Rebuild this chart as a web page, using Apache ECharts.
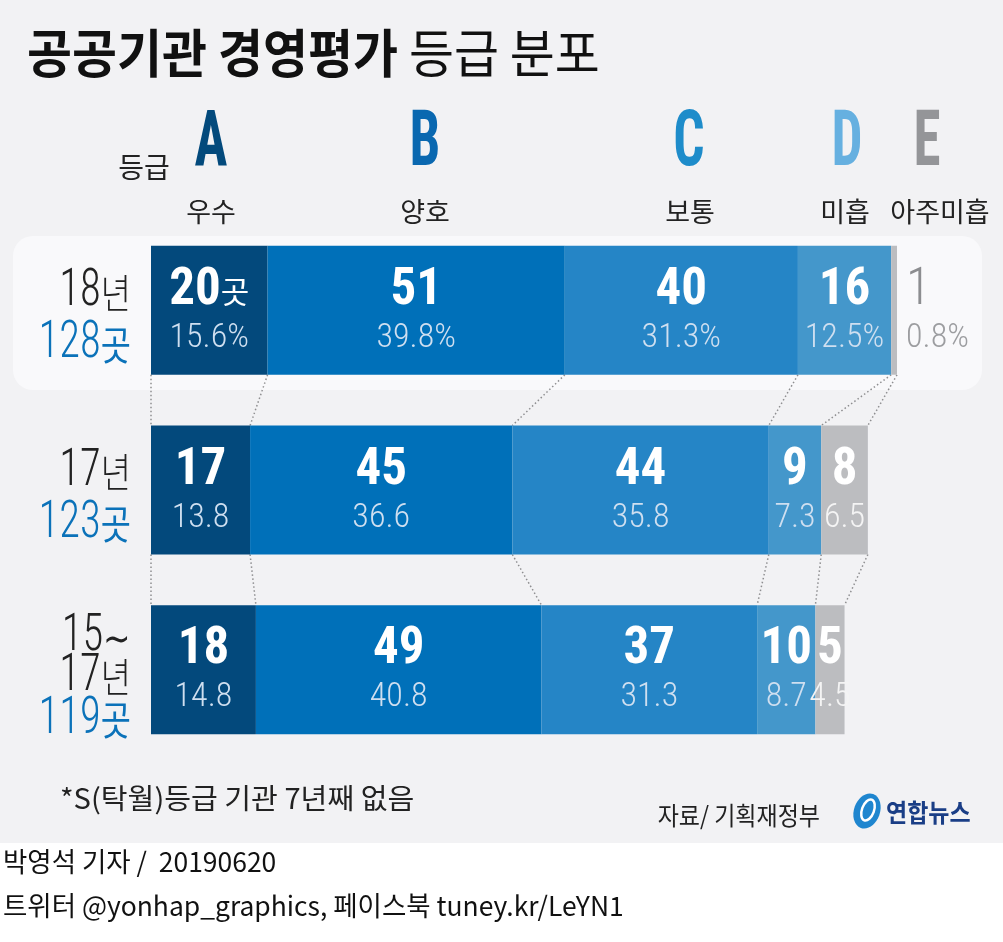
<!DOCTYPE html>
<html>
<head>
<meta charset="utf-8">
<script src="https://cdn.jsdelivr.net/npm/echarts@6/dist/echarts.min.js"></script>
<style>
html,body{margin:0;padding:0;background:#f2f2f4;}
#chart{width:1003px;height:942px;}
</style>
</head>
<body>
<div id="chart"></div>
<script>
// ---- data ----
const categories = ['18년', '17년', '15∼17년'];
const rowTotals = [128, 123, 119];
const gradeNames = ['A', 'B', 'C', 'D', 'E'];
const gradeLabels = ['우수', '양호', '보통', '미흡', '아주미흡'];
const gradeA = [20, 17, 18];
const gradeB = [51, 45, 49];
const gradeC = [40, 44, 37];
const gradeD = [16, 9, 10];
const gradeE = [1, 8, 5];
const pctA = [15.6, 13.8, 14.8];
const pctB = [39.8, 36.6, 40.8];
const pctC = [31.3, 35.8, 31.3];
const pctD = [12.5, 7.3, 8.7];
const pctE = [0.8, 6.5, 4.5];
const footnote = '*S(탁월)등급 기관 7년째 없음';
const source = '자료/ 기획재정부';

// ---- styles ----
const NUM = "'Liberation Sans Narrow','Roboto Condensed','Noto Sans CJK KR',sans-serif";
const KR = "'Noto Sans CJK KR','Noto Sans',sans-serif";
const colors = ['#03497c', '#0070b9', '#2585c6', '#4497cb', '#bcbdc0'];
const letterColors = ['#034a7c', '#0a68b0', '#1e8cca', '#66b0e0', '#949598'];
const BAR_H = 129;

const counts = [gradeA, gradeB, gradeC, gradeD, gradeE];
const pcts = [pctA, pctB, pctC, pctD, pctE];

const chart = echarts.init(document.getElementById('chart'), null, {renderer: 'canvas'});

function fmtPct(v, row) {
  const s = v.toFixed(1);
  return row === 0 ? s + '%' : s;
}

const richBase = {
  n: {fontFamily: NUM, fontSize: 51, fontWeight: 'bold', color: '#ffffff', lineHeight: 56, align: 'center'},
  u: {fontFamily: KR, fontSize: 31, color: '#ffffff', lineHeight: 56},
  p: {fontFamily: NUM, fontSize: 34, fontWeight: 300, color: '#cfdff0', lineHeight: 38, align: 'center'},
  pg: {fontFamily: NUM, fontSize: 34, fontWeight: 300, color: '#f4f4f4', lineHeight: 38, align: 'center'},
  on: {fontFamily: NUM, fontSize: 51, fontWeight: 300, color: '#8c8d90', lineHeight: 56},
  op: {fontFamily: NUM, fontSize: 34, fontWeight: 300, color: '#9c9da0', lineHeight: 38}
};

const barSeries = counts.map((arr, gi) => ({
  name: gradeNames[gi],
  type: 'bar',
  stack: 'total',
  barWidth: BAR_H,
  itemStyle: {color: colors[gi]},
  emphasis: {disabled: true},
  z: 3,
  data: arr.map((v, ri) => {
    const item = {value: v};
    if (gi === 4 && ri === 0) {
      item.label = {position: 'right', distance: 9, align: 'left'};
    }
    return item;
  }),
  label: {
    show: true,
    position: 'inside',
    rich: richBase,
    formatter: (p) => {
      const ri = p.dataIndex;
      const v = arr[ri];
      const pc = fmtPct(pcts[gi][ri], ri);
      if (gi === 4 && ri === 0) return '{on|' + v + '}\n{op|' + pc + '}';
      if (gi === 0 && ri === 0) return '{n|' + v + '}{u|곳}\n{p|' + pc + '}';
      if (gi === 4) return '{n|' + v + '}\n{pg|' + pc + '}';
      return '{n|' + v + '}\n{p|' + pc + '}';
    }
  }
}));

// connector lines between rows at cumulative boundaries
const cum = categories.map((_, ri) => {
  const c = [0];
  counts.forEach(arr => c.push(c[c.length - 1] + arr[ri]));
  return c;
});
const connData = [];
for (let r = 0; r < categories.length - 1; r++) {
  for (let k = 0; k < cum[r].length; k++) {
    connData.push([cum[r][k], cum[r + 1][k], r]);
  }
}

const option = {
  backgroundColor: '#f2f2f4',
  animation: false,
  grid: {left: 151, width: 746, top: 220.5, height: 539},
  xAxis: {type: 'value', min: 0, max: 128, show: false, splitLine: {show: false}},
  yAxis: {type: 'category', data: categories, inverse: true, show: false},
  series: barSeries.concat([{
    type: 'custom',
    z: 2,
    silent: true,
    encode: {x: [0, 1], y: 2},
    data: connData,
    renderItem: (params, api) => {
      const r = api.value(2);
      const p1 = api.coord([api.value(0), r]);
      const p2 = api.coord([api.value(1), r + 1]);
      return {
        type: 'line',
        shape: {x1: p1[0], y1: p1[1] + BAR_H / 2, x2: p2[0], y2: p2[1] - BAR_H / 2},
        style: {stroke: '#8e8e90', lineWidth: 1.5, lineDash: [1.5, 2.5]}
      };
    }
  }])
};
chart.setOption(option);

// ---- decorations & text ----
const g = [];
// rounded highlight box behind first row
g.push({type: 'rect', z: 0, shape: {x: 13, y: 236, width: 969, height: 154, r: 20}, style: {fill: '#f9f9fb'}});
// bottom white band
g.push({type: 'rect', z: 0, shape: {x: 0, y: 843, width: 1003, height: 99}, style: {fill: '#ffffff'}});
// title
g.push({type: 'text', x: 27, y: 53, scaleX: 0.94, z: 5, style: {
  text: '{b|공공기관 경영평가 }{r|등급 분포}', textVerticalAlign: 'middle',
  rich: {b: {fontFamily: KR, fontSize: 52, fontWeight: 'bold', fill: '#111'},
         r: {fontFamily: KR, fontSize: 52, fontWeight: 'normal', fill: '#111'}}
}});
// header
g.push({type: 'text', x: 144, y: 167, z: 5, style: {text: '등급', font: '28px ' + KR, fill: '#222', textAlign: 'center', textVerticalAlign: 'middle'}});
const letterX = [211, 425, 689, 847, 927];
const labelX = [211, 425, 690, 845, 940];
gradeNames.forEach((nm, i) => {
  g.push({type: 'text', x: letterX[i], y: 184, scaleX: 1.1, scaleY: 1.55, z: 5, style: {
    text: nm, font: 'bold 50px ' + NUM, fill: letterColors[i], textAlign: 'center', textVerticalAlign: 'bottom'}});
  g.push({type: 'text', x: labelX[i], y: 212, z: 5, style: {
    text: gradeLabels[i], font: '27px ' + KR, fill: '#222', textAlign: 'center', textVerticalAlign: 'middle'}});
});
// row labels
categories.forEach((c, ri) => {
  const pt = chart.convertToPixel({xAxisIndex: 0, yAxisIndex: 0}, [0, ri]);
  const cy = pt[1];
  const parts = c.split('∼');
  const multi = parts.length > 1;
  const rich = {
    y: {fontFamily: NUM, fontSize: 52, fontWeight: 300, fill: '#222', lineHeight: multi ? 40 : 52, align: 'right'},
    k: {fontFamily: KR, fontSize: 40, fontWeight: 300, fill: '#222'},
    t: {fontFamily: NUM, fontSize: 52, fontWeight: 300, fill: '#0b72b9', lineHeight: multi ? 46 : 52, align: 'right'},
    tk: {fontFamily: KR, fontSize: 40, fill: '#0b72b9'}
  };
  const fmtYear = (s) => s.replace(/(\d+)(년)?/, (m, d, n) => '{y|' + d + '}' + (n ? '{k|' + n + '}' : ''));
  let text;
  if (multi) {
    text = '{y|' + parts[0] + '}{k|∼}\n' + fmtYear(parts[1]) + '\n{t|' + rowTotals[ri] + '}{tk|곳}';
  } else {
    text = fmtYear(c) + '\n{t|' + rowTotals[ri] + '}{tk|곳}';
  }
  g.push({type: 'text', x: 131, y: cy + (multi ? 10 : 8), scaleX: 0.82, z: 5, style: {
    text: text, rich: rich, textAlign: 'right', textVerticalAlign: 'middle'}});
});
// footnote, source
g.push({type: 'text', x: 60, y: 798, z: 5, scaleX: 1.04, style: {text: footnote, font: '28px ' + KR, fill: '#222', textVerticalAlign: 'middle'}});
g.push({type: 'text', x: 820, y: 815, z: 5, scaleX: 0.92, style: {text: source, font: '25px ' + KR, fill: '#222', textAlign: 'right', textVerticalAlign: 'middle'}});
// logo
g.push({type: 'ellipse', z: 5, x: 867, y: 811, rotation: -0.35, shape: {cx: 0, cy: 0, rx: 13, ry: 18}, style: {fill: '#1f86cf'}});
g.push({type: 'ellipse', z: 6, x: 868, y: 810, rotation: -0.35, shape: {cx: 0, cy: 0, rx: 6, ry: 11}, style: {fill: 'none', stroke: '#ffffff', lineWidth: 2.5}});
g.push({type: 'text', x: 886, y: 812, z: 5, scaleX: 0.92, style: {text: '연합뉴스', font: 'bold 25px ' + KR, fill: '#1a3e86', textVerticalAlign: 'middle'}});
// byline
g.push({type: 'text', x: 3, y: 862, z: 5, scaleX: 0.98, style: {text: '박영석 기자 /  20190620', font: '27px ' + KR, fill: '#111', textVerticalAlign: 'middle'}});
g.push({type: 'text', x: 3, y: 906, z: 5, scaleX: 0.98, style: {text: '트위터 @yonhap_graphics, 페이스북 tuney.kr/LeYN1', font: '27px ' + KR, fill: '#111', textVerticalAlign: 'middle'}});

chart.setOption({graphic: {elements: g}});
</script>
</body>
</html>
